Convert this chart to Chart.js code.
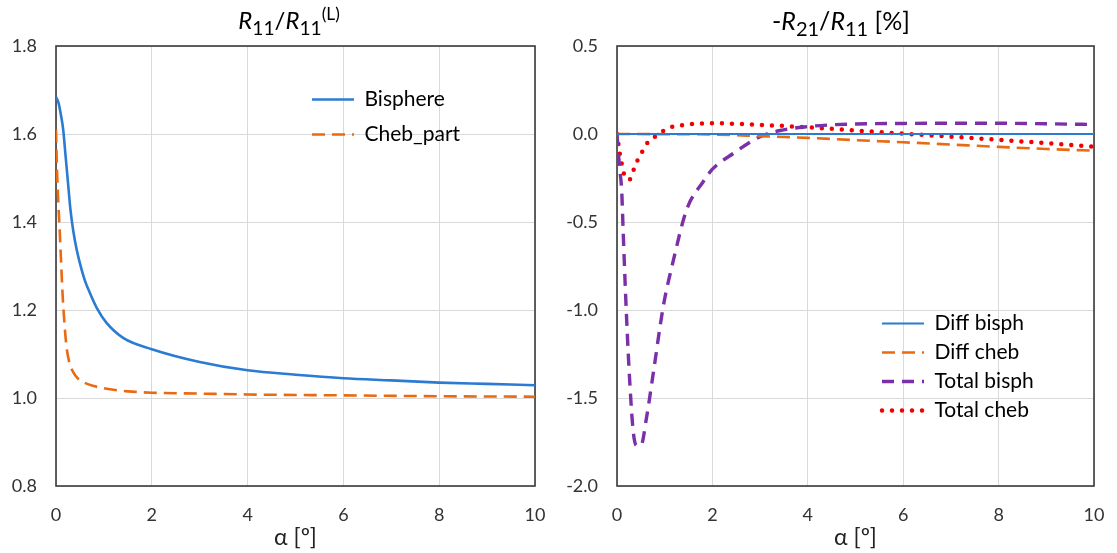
<!DOCTYPE html>
<html>
<head>
<meta charset="utf-8">
<title>R11 / R21 vs alpha</title>
<script src="https://cdn.jsdelivr.net/npm/chart.js"></script>
<style>
	body { margin: 0; background: #fff; font-family: Lato, sans-serif; }
	#wrap { position: relative; width: 1117px; height: 553px; }
	canvas { position: absolute; top: 0; }
	#left { left: 0; }
	#right { left: 558px; }
	.title { position: absolute; top: 5px; width: 240px; font-size: 24px; line-height: 30px; text-align: center; color: #000; white-space: nowrap; }
	.title sub { font-size: 0.8em; vertical-align: -0.3em; line-height: 0; }
	.title sup { font-size: 0.72em; vertical-align: 0.55em; line-height: 0; }
</style>
</head>
<body>
<div id="wrap">
	<canvas id="left" width="558" height="553"></canvas>
	<canvas id="right" width="559" height="553"></canvas>
	<div class="title" style="left:169px"><i>R</i><sub>11</sub>/<i>R</i><sub>11</sub><sup>(L)</sup></div>
	<div class="title" style="left:721px;font-size:25px">-<i>R</i><sub>21</sub>/<i>R</i><sub>11</sub> [%]</div>
</div>
<script>
	// left panel: R11 / R11(L)
	const alphaBisphere = [0, 0.05, 0.1, 0.15, 0.2, 0.25, 0.3, 0.36, 0.43, 0.5, 0.6, 0.71, 0.85, 1.06, 1.41, 2, 3, 4, 5, 6, 7, 8, 9, 10];
	const bisphere = [1.684, 1.672, 1.645, 1.61, 1.55, 1.49, 1.43, 1.38, 1.338, 1.306, 1.268, 1.238, 1.205, 1.17, 1.136, 1.111, 1.082, 1.063, 1.053, 1.045, 1.04, 1.035, 1.032, 1.029];
	const alphaChebPart = [0, 0.02, 0.05, 0.08, 0.11, 0.14, 0.18, 0.22, 0.28, 0.36, 0.45, 0.57, 0.8, 1.06, 1.5, 2, 3, 4, 6, 8, 10];
	const chebPart = [1.61, 1.52, 1.44, 1.374, 1.3, 1.23, 1.165, 1.116, 1.08, 1.059, 1.045, 1.036, 1.027, 1.021, 1.015, 1.012, 1.01, 1.008, 1.006, 1.004, 1.003];

	// right panel: -R21 / R11 [%]
	const alphaDiffBisph = [0, 2, 4, 6, 8, 10];
	const diffBisph = [0, 0, 0, 0, 0, 0];
	const alphaDiffCheb = [0, 1, 2, 3, 4, 5, 6, 7, 8, 9, 10];
	const diffCheb = [0, -0.001, -0.003, -0.012, -0.022, -0.035, -0.047, -0.06, -0.073, -0.085, -0.095];
	const alphaTotalBisph = [0, 0.05, 0.1, 0.13, 0.2, 0.27, 0.34, 0.41, 0.5, 0.62, 0.76, 0.97, 1.18, 1.46, 1.81, 2, 2.44, 3, 3.42, 4, 4.5, 5, 6, 7, 8, 9, 10];
	const totalBisph = [0, -0.18, -0.33, -0.56, -1.04, -1.42, -1.69, -1.77, -1.77, -1.61, -1.36, -0.98, -0.72, -0.43, -0.27, -0.2, -0.11, -0.015, 0.02, 0.042, 0.052, 0.057, 0.06, 0.061, 0.061, 0.058, 0.054];
	const alphaTotalCheb = [0, 0.03, 0.06, 0.1, 0.15, 0.26, 0.34, 0.43, 0.53, 0.64, 0.8, 0.97, 1.17, 1.39, 1.6, 2, 2.4, 2.8, 3.4, 4, 5, 6, 7, 8, 9, 10];
	const totalCheb = [0, -0.057, -0.115, -0.17, -0.23, -0.26, -0.21, -0.15, -0.1, -0.05, -0.015, 0.017, 0.042, 0.051, 0.057, 0.061, 0.059, 0.054, 0.047, 0.038, 0.02, 0.002, -0.015, -0.033, -0.052, -0.072];

	const xTicks = [0, 2, 4, 6, 8, 10];

	Chart.defaults.font.family = 'Lato, sans-serif';
	Chart.defaults.color = '#333';

	function pts(xs, ys) {
		return xs.map((x, i) => ({ x: x, y: ys[i] }));
	}

	// dark frame round the plot area
	const framePlugin = {
		id: 'frame',
		beforeDatasetsDraw(chart) {
			const a = chart.chartArea;
			const ctx = chart.ctx;
			ctx.save();
			ctx.strokeStyle = '#3a3a3a';
			ctx.lineWidth = 1.6;
			ctx.strokeRect(a.left, a.top, a.right - a.left, a.bottom - a.top);
			ctx.restore();
		}
	};

	// move the legend box to a fixed spot inside the plot
	const legendSpot = {
		id: 'legendSpot',
		afterLayout(chart, args, opts) {
			const lg = chart.legend;
			if (!lg) return;
			const w = lg.width, h = lg.height;
			lg.left = opts.x; lg.top = opts.y;
			lg.right = opts.x + w; lg.bottom = opts.y + h;
		}
	};

	function makeOptions(yMin, yMax, yStep, yWidth, legendX, legendY, legendGap) {
		return {
			responsive: false,
			animation: false,
			layout: { padding: { top: 46, right: 23, bottom: 0, left: 0 } },
			elements: { point: { radius: 0 } },
			scales: {
				x: {
					type: 'linear', min: 0, max: 10,
					afterBuildTicks: (s) => { s.ticks = xTicks.map(v => ({ value: v })); },
					afterFit: (s) => { s.height = 67; s.paddingLeft = 0; s.paddingRight = 0; },
					grid: { color: '#d9d9d9', lineWidth: 1, drawTicks: false },
					border: { display: false },
					ticks: { padding: 18, font: { size: 18 }, maxRotation: 0 },
					title: { display: true, text: 'α [º]', font: { size: 23 }, color: '#222', padding: { top: 0, bottom: 2 } }
				},
				y: {
					min: yMin, max: yMax,
					ticks: { stepSize: yStep, padding: 19, font: { size: 18 }, callback: v => v.toFixed(1) },
					afterFit: (s) => { s.width = yWidth; },
					grid: { color: '#d9d9d9', lineWidth: 1, drawTicks: false },
					border: { display: false }
				}
			},
			plugins: {
				tooltip: { enabled: false },
				legendSpot: { x: legendX, y: legendY },
				legend: {
					position: 'chartArea',
					align: 'start',
					labels: {
						usePointStyle: true,
						pointStyleWidth: 42,
						padding: legendGap,
						color: '#111',
						font: { size: 21 },
						generateLabels: (chart) => chart.data.datasets.map((ds, i) => ({
							text: ds.label,
							strokeStyle: ds.borderColor,
							fillStyle: ds.borderColor,
							lineWidth: ds.borderWidth,
							lineDash: ds.borderDash || [],
							lineCap: ds.borderCapStyle || 'butt',
							pointStyle: 'line',
							hidden: false,
							datasetIndex: i
						}))
					}
				}
			}
		};
	}

	const blue = '#2b7bd3';
	const orange = '#e96a10';
	const purple = '#7b2fa8';
	const red = '#f00000';

	new Chart(document.getElementById('left'), {
		type: 'line',
		data: {
			datasets: [
				{ label: 'Bisphere', data: pts(alphaBisphere, bisphere), borderColor: blue, borderWidth: 2.6, cubicInterpolationMode: 'monotone' },
				{ label: 'Cheb_part', data: pts(alphaChebPart, chebPart), borderColor: orange, borderWidth: 2.6, borderDash: [13, 7], cubicInterpolationMode: 'monotone' }
			]
		},
		options: makeOptions(0.8, 1.8, 0.2, 56, 298, 75, 14),
		plugins: [framePlugin, legendSpot]
	});

	new Chart(document.getElementById('right'), {
		type: 'line',
		data: {
			datasets: [
				{ label: 'Diff bisph', data: pts(alphaDiffBisph, diffBisph), borderColor: blue, borderWidth: 2.2 },
				{ label: 'Diff cheb', data: pts(alphaDiffCheb, diffCheb), borderColor: orange, borderWidth: 2.6, borderDash: [13, 7], cubicInterpolationMode: 'monotone' },
				{ label: 'Total bisph', data: pts(alphaTotalBisph, totalBisph), borderColor: purple, borderWidth: 3.4, borderDash: [12, 8], cubicInterpolationMode: 'monotone' },
				{ label: 'Total cheb', data: pts(alphaTotalCheb, totalCheb), borderColor: red, borderWidth: 4.5, borderDash: [0, 10], borderCapStyle: 'round', cubicInterpolationMode: 'monotone' }
			]
		},
		options: makeOptions(-2, 0.5, 0.5, 59, 316, 305, 8),
		plugins: [framePlugin, legendSpot]
	});
</script>
</body>
</html>
